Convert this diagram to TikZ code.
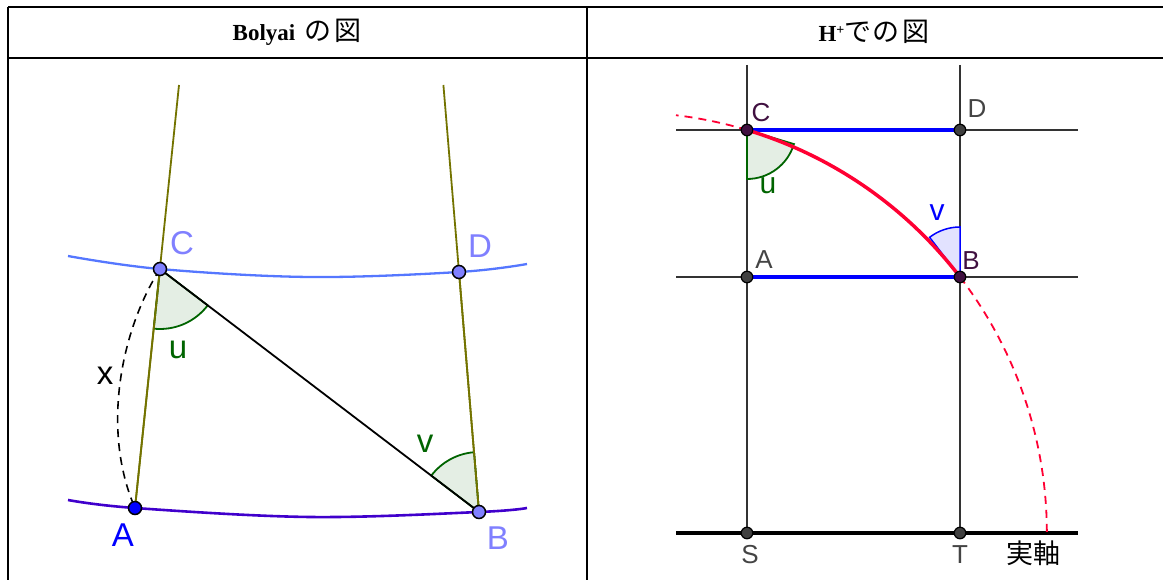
\documentclass[tikz,border=0pt]{standalone}
\usepackage{fontspec}
\setmainfont{Liberation Serif}
\setsansfont{Liberation Sans}
\newfontfamily\cjk{Noto Sans CJK JP}
\definecolor{olivel}{RGB}{115,115,0}
\definecolor{curveup}{RGB}{85,119,255}
\definecolor{curvelo}{RGB}{64,0,204}
\definecolor{ptlight}{RGB}{128,128,255}
\definecolor{ggreen}{RGB}{0,100,0}
\definecolor{gfill}{RGB}{228,238,228}
\definecolor{bfill}{RGB}{226,226,255}
\definecolor{dpurple}{RGB}{64,16,64}
\definecolor{gridc}{RGB}{51,51,51}
\definecolor{ptgray}{RGB}{64,64,64}
\definecolor{labgray}{RGB}{68,68,68}
\definecolor{gred}{RGB}{255,0,51}
\tikzset{
  rule/.style={line width=2pt, black},
  hdr/.style={inner sep=0pt},
  ptL/.style={circle, draw=black, line width=1.5pt, inner sep=0pt, minimum size=13pt},
  ptR/.style={circle, draw=black, line width=1.2pt, inner sep=0pt, minimum size=11.5pt},
  labL/.style={font=\sffamily\fontsize{33}{33}\selectfont, inner sep=0pt},
  labR/.style={font=\sffamily\fontsize{26}{26}\selectfont, inner sep=0pt},
  labRa/.style={font=\sffamily\fontsize{30}{30}\selectfont, inner sep=0pt},
  olive/.style={olivel, line width=1.8pt},
  angG/.style={draw=ggreen, fill=gfill, line width=1.8pt},
  angB/.style={draw=blue, fill=bfill, line width=1.5pt},
  gridl/.style={gridc, line width=1.8pt},
  bluesg/.style={blue, line width=3.5pt},
  redarc/.style={gred, line width=3.5pt},
  reddash/.style={gred, line width=1.8pt, dash pattern=on 8pt off 6pt},
}
\begin{document}
\begin{tikzpicture}[x=1pt,y=1pt]
\useasboundingbox (0,0) rectangle (1163,-580);
% table
\draw[rule] (8,-7) -- (1165,-7);
\draw[rule] (8,-58) -- (1165,-58);
\draw[rule] (8,-7) -- (8,-582);
\draw[rule] (587,-7) -- (587,-582);
\node[hdr] (h1) at (297,-32) {{\bfseries\fontsize{23}{23}\selectfont Bolyai}\hspace{9pt}{\cjk\fontsize{27}{27}\selectfont の\hspace{3pt}図}};
\node[hdr] (h2) at (874,-32) {{\bfseries\fontsize{23}{23}\selectfont H\raisebox{7pt}{\fontsize{14}{14}\selectfont +}}{\cjk\fontsize{27}{27}\selectfont で\hspace{1pt}の\hspace{3pt}図}};

% ---------- left panel ----------
\coordinate (Ctop) at (179,-85);
\coordinate (Dtop) at (443.4,-85);
\coordinate (C) at (160,-269);
\coordinate (D) at (459,-272);
\coordinate (A) at (135,-508);
\coordinate (B) at (479,-512);
\draw[curveup, line width=2.3pt] plot[smooth, tension=0.6] coordinates {(68,-256) (160,-269) (310,-277) (459,-272) (527,-264)};
\draw[curvelo, line width=2.6pt] plot[smooth, tension=0.6] coordinates {(68,-500) (135,-508) (310,-517) (479,-512) (527,-508)};
\draw[olive] (Ctop) -- (A);
\draw[olive] (Dtop) -- (B);
\draw[angG] (C) -- ++(-95.97:60) arc[start angle=-95.97, end angle=-37.3, radius=60] -- cycle;
\draw[angG] (B) -- ++(94.76:60) arc[start angle=94.76, end angle=142.7, radius=60] -- cycle;
\draw[olive] (C) -- (A);
\draw[olive] (D) -- (B);
\draw[black, line width=1.8pt] (C) -- (B);
\draw[black, line width=1.6pt, dash pattern=on 8pt off 6pt] (C) .. controls (121,-330) and (101,-430) .. (A);
\node[ptL, fill=ptlight] (pC) at (C) {};
\node[ptL, fill=ptlight] (pD) at (D) {};
\node[ptL, fill=blue] (pA) at (A) {};
\node[ptL, fill=ptlight] (pB) at (B) {};
\node[labL, ptlight] (lC) at (182,-243) {C};
\node[labL, ptlight] (lD) at (480,-246) {D};
\node[labL, blue] (lA) at (123,-535) {A};
\node[labL, ptlight] (lB) at (498,-538) {B};
\node[labL, ggreen] (lu) at (178,-350) {u};
\node[labL, ggreen] (lv) at (425,-444) {v};
\node[labL, black] (lx) at (105,-376) {x};

% ---------- right panel ----------
\coordinate (RC) at (747,-130);
\coordinate (RD) at (960,-130);
\coordinate (RA) at (747,-277);
\coordinate (RB) at (960,-277);
\coordinate (RS) at (747,-533);
\coordinate (RT) at (960,-533);
\coordinate (Stop) at (747,-65);
\coordinate (Ttop) at (960,-65);
\coordinate (H1l) at (676,-130);
\coordinate (H1r) at (1078,-130);
\coordinate (H2l) at (676,-277);
\coordinate (H2r) at (1078,-277);
\coordinate (AXl) at (676,-533);
\coordinate (AXr) at (1078,-533);
\coordinate (O) at (626.1,-533);
\draw[gridl] (Stop) -- (RS);
\draw[gridl] (Ttop) -- (RT);
\draw[gridl] (H1l) -- (H1r);
\draw[gridl] (H2l) -- (H2r);
\draw[black, line width=3.2pt] (AXl) -- (AXr);
\draw[bluesg] (RC) -- (RD);
\draw[bluesg] (RA) -- (RB);
\draw[angG] (RC) -- ++(-90:49) arc[start angle=-90, end angle=-16.7, radius=49] -- cycle;
\draw[angB] (RB) -- ++(90:50) arc[start angle=90, end angle=127.48, radius=50] -- cycle;
\draw[reddash] (RC) arc[start angle=73.30, end angle=83.19, radius=420.7];
\draw[reddash] (RB) arc[start angle=37.48, end angle=0, radius=420.7];
\draw[redarc] (RC) arc[start angle=73.30, end angle=37.48, radius=420.7];
\node[ptR, fill=dpurple] (qC) at (RC) {};
\node[ptR, fill=ptgray] (qD) at (RD) {};
\node[ptR, fill=ptgray] (qA) at (RA) {};
\node[ptR, fill=dpurple] (qB) at (RB) {};
\node[ptR, fill=ptgray] (qS) at (RS) {};
\node[ptR, fill=ptgray] (qT) at (RT) {};
\node[labR, dpurple] (mC) at (761,-113) {C};
\node[labR, labgray] (mD) at (977,-109) {D};
\node[labR, labgray] (mA) at (764,-260) {A};
\node[labR, dpurple] (mB) at (971,-261) {B};
\node[labR, labgray] (mS) at (750,-555) {S};
\node[labR, labgray] (mT) at (960,-555) {T};
\node[inner sep=0pt, font=\cjk\fontsize{27}{27}\selectfont] (axl) at (1033,-553) {実軸};
\node[labRa, ggreen] (mu) at (768,-186) {u};
\node[labRa, blue] (mv) at (937,-213) {v};
\end{tikzpicture}
\end{document}
